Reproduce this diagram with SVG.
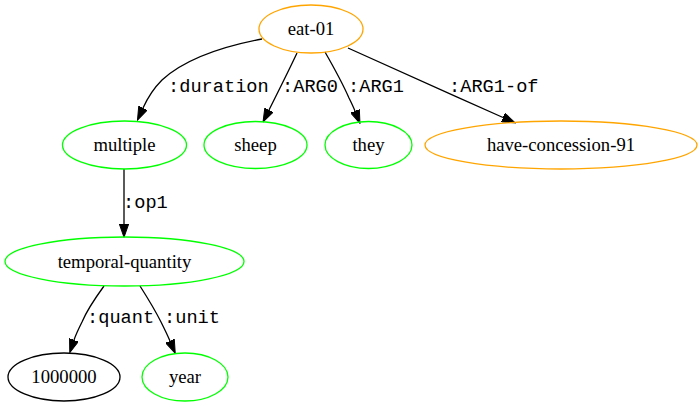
<svg xmlns="http://www.w3.org/2000/svg" width="698" height="407" viewBox="0 0 698 407">
<style>
.node ellipse{fill:none;stroke-width:1.3}
.orange{stroke:#FFA500}
.green{stroke:#00FF00}
.black{stroke:#000}
.nl{font-family:"Liberation Serif","Times New Roman",serif;font-size:18.67px;text-anchor:middle;fill:#000}
.el{font-family:"Liberation Mono","Courier New",monospace;font-size:18.67px;fill:#000}
.edge{fill:none;stroke:#000;stroke-width:1.3;marker-end:url(#arr)}
</style>
<defs>
<marker id="arr" markerUnits="userSpaceOnUse" viewBox="0 0 14 10" markerWidth="14" markerHeight="10" refX="0" refY="5" orient="auto">
<path d="M0,0.33 L13.33,5 L0,9.67 z" fill="#000" stroke="#000" stroke-width="1"/>
</marker>
</defs>
<rect width="698" height="407" fill="#fff"/>
<g id="connectors">
<path class="edge" d="M262,39 C225,46 185,59 162,80 C154,88 148,97 143,108"/>
<path class="edge" d="M297,53 C290,68 280,88 269,110"/>
<path class="edge" d="M325,52 C333,66 342,82 349,98 C351,102 353,106 355,111"/>
<path class="edge" d="M348,48 C390,67 450,94 503,117.5"/>
<path class="edge" d="M124,169 L124,224"/>
<path class="edge" d="M104,286 C96,297 87,310 82,322 C79,328 76,334 74,340"/>
<path class="edge" d="M140,286 C147,297 155,310 161,322 C164,328 167,334 170,341"/>
<text class="el" x="168" y="92">:duration</text>
<text class="el" x="282" y="92">:ARG0</text>
<text class="el" x="348" y="92">:ARG1</text>
<text class="el" x="449" y="92">:ARG1-of</text>
<text class="el" x="123" y="208">:op1</text>
<text class="el" x="87" y="323">:quant</text>
<text class="el" x="164" y="323">:unit</text>
</g>
<g id="eat-01" class="node"><ellipse class="orange" cx="311" cy="29" rx="52" ry="24"/><text class="nl" x="311" y="35">eat-01</text></g>
<g id="multiple" class="node"><ellipse class="green" cx="124.5" cy="145" rx="62" ry="24"/><text class="nl" x="124.5" y="151">multiple</text></g>
<g id="sheep" class="node"><ellipse class="green" cx="255.5" cy="145" rx="51.5" ry="23.5"/><text class="nl" x="255.5" y="151">sheep</text></g>
<g id="they" class="node"><ellipse class="green" cx="368.5" cy="145" rx="43.5" ry="23.5"/><text class="nl" x="368.5" y="151">they</text></g>
<g id="have-concession-91" class="node"><ellipse class="orange" cx="561" cy="145" rx="136" ry="24"/><text class="nl" x="561" y="151">have-concession-91</text></g>
<g id="temporal-quantity" class="node"><ellipse class="green" cx="124.5" cy="261.5" rx="119.5" ry="24.5"/><text class="nl" x="124.5" y="267.5">temporal-quantity</text></g>
<g id="n1000000" class="node"><ellipse class="black" cx="64" cy="377" rx="56" ry="24"/><text class="nl" x="64" y="383">1000000</text></g>
<g id="year" class="node"><ellipse class="green" cx="185" cy="377" rx="43" ry="24"/><text class="nl" x="185" y="383">year</text></g>
</svg>
